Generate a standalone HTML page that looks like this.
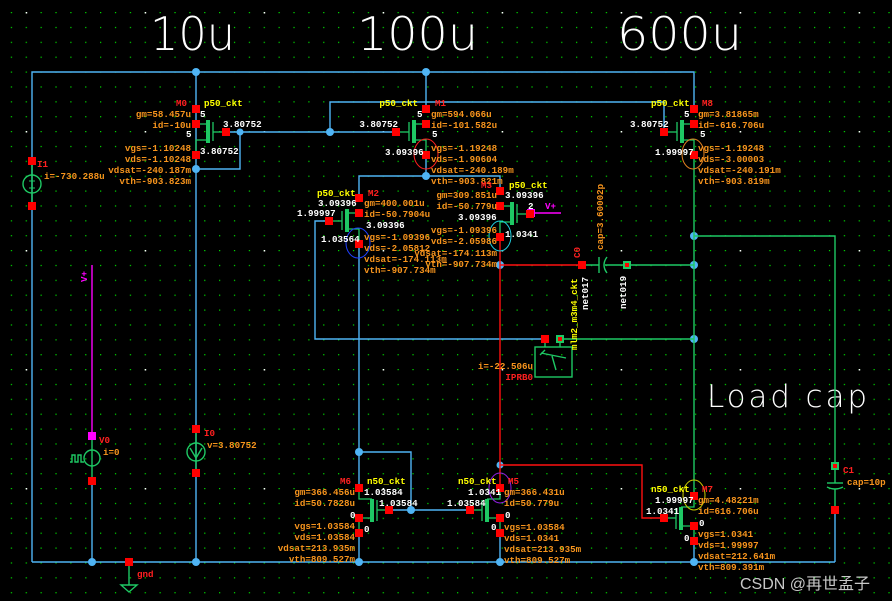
<!DOCTYPE html>
<html><head><meta charset="utf-8"><style>
html,body{margin:0;padding:0;background:#000;}
svg{display:block;}
.t{font-family:"Liberation Mono",monospace;font-size:9.2px;font-weight:bold;}
.o{fill:#f7941d;}.w{fill:#fff;}.y{fill:#ffff00;}.r{fill:#ff2020;}.m{fill:#ff00ff;}
.big{font-family:"DejaVu Sans ExtraLight","DejaVu Sans Light","Liberation Sans",sans-serif;font-weight:200;fill:#fff;}
</style></head><body>
<svg width="892" height="601" viewBox="0 0 892 601" xmlns="http://www.w3.org/2000/svg">
<defs>
<pattern id="g" x="10.8" y="12" width="14.875" height="14.875" patternUnits="userSpaceOnUse"><rect x="0" y="0" width="1.2" height="1.2" fill="#00e000"/></pattern>
<pattern id="gw" x="25.7" y="12" width="119" height="119" patternUnits="userSpaceOnUse"><rect x="-0.5" y="-0.5" width="2" height="2" fill="#fff"/></pattern>
<g id="pm">
<line x1="0" y1="0" x2="12" y2="0" stroke="#1ec864" stroke-width="1.3"/>
<rect x="10" y="-4" width="4" height="23" fill="#1ec864"/>
<polyline points="12,16 0,16 0,31" fill="none" stroke="#1ec864" stroke-width="1.3"/>
<line x1="17" y1="-2" x2="17" y2="17" stroke="#1ec864" stroke-width="1.3"/>
<line x1="17" y1="8" x2="30" y2="8" stroke="#1ec864" stroke-width="1.3"/>
<rect x="-4" y="-19" width="8" height="8" fill="#f00"/>
<rect x="-4" y="-4" width="8" height="8" fill="#f00"/>
<rect x="-4" y="27" width="8" height="8" fill="#f00"/>
<rect x="26" y="4" width="8" height="8" fill="#f00"/>
</g>
<g id="nm">
<polyline points="0,0 0,11 13,11" fill="none" stroke="#1ec864" stroke-width="1.3"/>
<rect x="11" y="11" width="4" height="23" fill="#1ec864"/>
<polyline points="13,30 0,30 0,45" fill="none" stroke="#1ec864" stroke-width="1.3"/>
<line x1="18" y1="12" x2="18" y2="33" stroke="#1ec864" stroke-width="1.3"/>
<line x1="18" y1="22" x2="30" y2="22" stroke="#1ec864" stroke-width="1.3"/>
<rect x="-4" y="-4" width="8" height="8" fill="#f00"/>
<rect x="-4" y="26" width="8" height="8" fill="#f00"/>
<rect x="-4" y="41" width="8" height="8" fill="#f00"/>
<rect x="26" y="18" width="8" height="8" fill="#f00"/>
</g>
</defs>
<rect width="892" height="601" fill="#000"/>
<rect width="892" height="601" fill="url(#g)"/>
<rect width="892" height="601" fill="url(#gw)"/>

<text class="big" x="150" y="50" font-size="46" textLength="85" lengthAdjust="spacingAndGlyphs">10u</text>
<text class="big" x="357" y="50" font-size="46" textLength="121" lengthAdjust="spacingAndGlyphs">100u</text>
<text class="big" x="617" y="50" font-size="46" textLength="125" lengthAdjust="spacingAndGlyphs">600u</text>
<text class="big" x="707" y="407" font-size="31" textLength="160" lengthAdjust="spacing">Load cap</text>

<g stroke="#4fb4f4" stroke-width="1.4" fill="none">
<polyline points="32,562 32,72 694,72 694,109"/>
<line x1="32" y1="562" x2="835" y2="562"/>
<line x1="196" y1="72" x2="196" y2="562"/>
<line x1="426" y1="72" x2="426" y2="109"/>
<polyline points="196,169 240,169 240,132"/>
<line x1="226" y1="132" x2="397" y2="132"/>
<polyline points="330,132 330,102 664,102 664,132"/>
<polyline points="426,154 426,176"/>
<polyline points="359,198 359,176 500,176 500,191"/>
<polyline points="330,221 315,221 315,339 545,339"/>
<line x1="359" y1="243" x2="359" y2="488"/>
<polyline points="359,452 411,452 411,510"/>
<line x1="389" y1="510" x2="472" y2="510"/>
<line x1="359" y1="533" x2="359" y2="562"/>
<line x1="500" y1="533" x2="500" y2="562"/>
<line x1="694" y1="540" x2="694" y2="562"/>
<line x1="835" y1="510" x2="835" y2="562"/>
<line x1="92" y1="481" x2="92" y2="562"/>
</g>
<g fill="#4fb4f4">
<circle cx="196" cy="72" r="4"/><circle cx="426" cy="72" r="4"/><circle cx="196" cy="169" r="4"/>
<circle cx="240" cy="132" r="3.5"/><circle cx="330" cy="132" r="4"/><circle cx="426" cy="176" r="4"/>
<circle cx="359" cy="452" r="4"/><circle cx="411" cy="510" r="4"/><circle cx="500" cy="265" r="4"/>
<circle cx="500" cy="465" r="3.5"/><circle cx="694" cy="236" r="4"/><circle cx="694" cy="265" r="4"/>
<circle cx="694" cy="339" r="4"/><circle cx="92" cy="562" r="4"/><circle cx="196" cy="562" r="4"/>
<circle cx="359" cy="562" r="4"/><circle cx="500" cy="562" r="4"/><circle cx="694" cy="562" r="4"/>
</g>

<g stroke="#ff1010" stroke-width="1.4" fill="none">
<line x1="500" y1="236" x2="500" y2="488"/>
<line x1="500" y1="265" x2="582" y2="265"/>
<polyline points="500,465 642,465 642,518 664,518"/>
</g>
<g stroke="#1ec864" stroke-width="1.4" fill="none">
<line x1="694" y1="154" x2="694" y2="496"/>
<polyline points="694,236 835,236 835,466"/>
<line x1="560" y1="339" x2="694" y2="339"/>
<line x1="627" y1="265" x2="694" y2="265"/>
<line x1="582" y1="265" x2="599" y2="265"/>
<line x1="605" y1="265" x2="627" y2="265"/>
<line x1="599" y1="257" x2="599" y2="273"/>
<path d="M607,257 Q601,265 607,273"/>
<line x1="835" y1="466" x2="835" y2="483"/>
<line x1="827" y1="483" x2="843" y2="483"/>
<path d="M827,487 Q835,491 843,487"/>
<line x1="835" y1="489" x2="835" y2="510"/>
<line x1="32" y1="165" x2="32" y2="202"/>
<circle cx="32" cy="184" r="9"/>
<line x1="92" y1="436" x2="92" y2="481"/>
<circle cx="92" cy="458" r="8"/>
<polyline points="70,462 72,462 72,455 75,455 75,462 78,462 78,455 81,455 81,462 84,462"/>
<line x1="196" y1="429" x2="196" y2="473"/>
<circle cx="196" cy="452" r="9"/>
<path d="M190,448 L196,458 L202,448"/>
<line x1="129" y1="562" x2="129" y2="585"/>
<path d="M121,585 L137,585 L129,592 Z"/>
<rect x="535" y="347" width="37" height="30"/>
<line x1="545" y1="339" x2="545" y2="347"/><line x1="560" y1="339" x2="560" y2="347"/>
<path d="M541,353 L566,358 M552,356 L556,370 M545,350 L540,355"/>
</g>
<g stroke="#1ec864" stroke-width="1" fill="none">
<line x1="29" y1="181" x2="35" y2="181"/><line x1="32" y1="178" x2="32" y2="184"/><line x1="29" y1="188" x2="35" y2="188"/>
</g>
<g fill="#f00">
<rect x="28" y="157" width="8" height="8"/><rect x="28" y="202" width="8" height="8"/>
<rect x="88" y="477" width="8" height="8"/><rect x="192" y="425" width="8" height="8"/><rect x="192" y="469" width="8" height="8"/>
<rect x="125" y="558" width="8" height="8"/><rect x="578" y="261" width="8" height="8"/>
<rect x="541" y="335" width="8" height="8"/><rect x="831" y="506" width="8" height="8"/>
</g>
<rect x="623" y="261" width="8" height="8" fill="#1ec864"/><rect x="625" y="263" width="4" height="4" fill="#f00"/>
<rect x="556" y="335" width="8" height="8" fill="#1ec864"/><rect x="558" y="337" width="4" height="4" fill="#f00"/>
<rect x="831" y="462" width="8" height="8" fill="#1ec864"/><rect x="833" y="464" width="4" height="4" fill="#f00"/>
<line x1="92" y1="265" x2="92" y2="436" stroke="#ff00ff" stroke-width="1.4"/>
<rect x="88" y="432" width="8" height="8" fill="#ff00ff"/>
<line x1="531" y1="213" x2="561" y2="213" stroke="#ff00ff" stroke-width="1.4"/>
<rect x="527" y="209" width="8" height="8" fill="#ff00ff"/>

<use href="#pm" transform="translate(196,124)"/>
<use href="#pm" transform="translate(426,124) scale(-1,1)"/>
<use href="#pm" transform="translate(694,124) scale(-1,1)"/>
<use href="#pm" transform="translate(359,213) scale(-1,1)"/>
<use href="#pm" transform="translate(500,206)"/>
<use href="#nm" transform="translate(359,488)"/>
<use href="#nm" transform="translate(500,488) scale(-1,1)"/>
<use href="#nm" transform="translate(694,496) scale(-1,1)"/>

<ellipse cx="426" cy="154" rx="12" ry="15" fill="none" stroke="#ff2020"/>
<ellipse cx="693" cy="154" rx="11" ry="15" fill="none" stroke="#e08020"/>
<ellipse cx="358" cy="243" rx="12" ry="15" fill="none" stroke="#2040ff"/>
<ellipse cx="500" cy="236" rx="11" ry="15" fill="none" stroke="#20d0e0"/>
<ellipse cx="500" cy="488" rx="11" ry="15" fill="none" stroke="#9020e0"/>
<ellipse cx="694" cy="495" rx="11" ry="15" fill="none" stroke="#c8c800"/>

<g class="t">
<text class="r" x="176" y="106">M0</text><text class="y" x="204" y="106">p50_ckt</text>
<g class="o" text-anchor="end">
<text x="191" y="117">gm=58.457u</text><text x="191" y="128">id=-10u</text>
<text x="191" y="151">vgs=-1.10248</text><text x="191" y="162">vds=-1.10248</text>
<text x="191" y="173">vdsat=-240.187m</text><text x="191" y="184">vth=-903.823m</text></g>
<text class="w" x="200" y="117">5</text><text class="w" x="186" y="137">5</text>
<text class="w" x="223" y="127">3.80752</text><text class="w" x="200" y="154">3.80752</text>
<text class="y" x="418" y="106" text-anchor="end">p50_ckt</text><text class="r" x="435" y="106">M1</text>
<text class="w" x="417" y="117">5</text><text class="w" x="432" y="137">5</text>
<text class="w" x="398" y="127" text-anchor="end">3.80752</text><text class="w" x="385" y="155">3.09396</text>
<g class="o"><text x="431" y="117">gm=594.066u</text><text x="431" y="128">id=-101.582u</text>
<text x="431" y="151">vgs=-1.19248</text><text x="431" y="162">vds=-1.90604</text>
<text x="431" y="173">vdsat=-240.189m</text><text x="431" y="184">vth=-903.821m</text></g>
<text class="y" x="651" y="106">p50_ckt</text><text class="r" x="702" y="106">M8</text>
<text class="w" x="684" y="117">5</text><text class="w" x="700" y="137">5</text>
<text class="w" x="630" y="127">3.80752</text><text class="w" x="655" y="155">1.99997</text>
<g class="o"><text x="698" y="117">gm=3.81865m</text><text x="698" y="128">id=-616.706u</text>
<text x="698" y="151">vgs=-1.19248</text><text x="698" y="162">vds=-3.00003</text>
<text x="698" y="173">vdsat=-240.191m</text><text x="698" y="184">vth=-903.819m</text></g>
<text class="y" x="317" y="196">p50_ckt</text><text class="r" x="368" y="196">M2</text>
<text class="w" x="318" y="206">3.09396</text><text class="w" x="297" y="216">1.99997</text>
<text class="w" x="366" y="228">3.09396</text><text class="w" x="321" y="242">1.03564</text>
<g class="o"><text x="364" y="206">gm=400.001u</text><text x="364" y="217">id=-50.7904u</text>
<text x="364" y="240">vgs=-1.09396</text><text x="364" y="251">vds=-2.05812</text>
<text x="364" y="262">vdsat=-174.113m</text><text x="364" y="273">vth=-907.734m</text></g>
<text class="r" x="481" y="188">M3</text><text class="y" x="509" y="188">p50_ckt</text>
<text class="w" x="505" y="198">3.09396</text><text class="w" x="528" y="209">2</text>
<text class="m" x="545" y="209">V+</text>
<text class="w" x="458" y="220">3.09396</text><text class="w" x="505" y="237">1.0341</text>
<g class="o" text-anchor="end"><text x="497" y="198">gm=309.851u</text><text x="497" y="209">id=-50.779u</text>
<text x="497" y="233">vgs=-1.09396</text><text x="497" y="244">vds=-2.05986</text>
<text x="497" y="256">vdsat=-174.113m</text><text x="497" y="267">vth=-907.734m</text></g>
<text class="r" x="340" y="484">M6</text><text class="y" x="367" y="484">n50_ckt</text>
<text class="w" x="364" y="495">1.03584</text><text class="w" x="379" y="506">1.03584</text>
<text class="w" x="350" y="518">0</text><text class="w" x="364" y="532">0</text>
<g class="o" text-anchor="end"><text x="355" y="495">gm=366.456u</text><text x="355" y="506">id=50.7828u</text>
<text x="355" y="529">vgs=1.03584</text><text x="355" y="540">vds=1.03584</text>
<text x="355" y="551">vdsat=213.935m</text><text x="355" y="562">vth=809.527m</text></g>
<text class="y" x="458" y="484">n50_ckt</text><text class="r" x="508" y="484">M5</text>
<text class="w" x="468" y="495">1.0341</text><text class="w" x="447" y="506">1.03584</text>
<text class="w" x="505" y="518">0</text><text class="w" x="491" y="530">0</text>
<g class="o"><text x="504" y="495">gm=366.431u</text><text x="504" y="506">id=50.779u</text>
<text x="504" y="530">vgs=1.03584</text><text x="504" y="541">vds=1.0341</text>
<text x="504" y="552">vdsat=213.935m</text><text x="504" y="563">vth=809.527m</text></g>
<text class="y" x="651" y="492">n50_ckt</text><text class="r" x="702" y="492">M7</text>
<text class="w" x="655" y="503">1.99997</text><text class="w" x="646" y="514">1.0341</text>
<text class="w" x="699" y="526">0</text><text class="w" x="684" y="541">0</text>
<g class="o"><text x="698" y="503">gm=4.48221m</text><text x="698" y="514">id=616.706u</text>
<text x="698" y="537">vgs=1.0341</text><text x="698" y="548">vds=1.99997</text>
<text x="698" y="559">vdsat=212.641m</text><text x="698" y="570">vth=809.391m</text></g>
<text class="r" x="37" y="167">I1</text><text class="o" x="44" y="179">i=-730.288u</text>
<text class="r" x="99" y="443">V0</text><text class="o" x="103" y="455">i=0</text>
<text class="r" x="204" y="436">I0</text><text class="o" x="207" y="448">v=3.80752</text>
<text class="r" x="137" y="577">gnd</text>
<text class="m" transform="translate(87,282) rotate(-90)">V+</text>
<text class="r" x="843" y="473">C1</text><text class="o" x="847" y="485">cap=10p</text>
<text class="o" x="533" y="369" text-anchor="end">i=-22.506u</text>
<text class="r" x="533" y="380" text-anchor="end">IPRB0</text>
<text class="r" transform="translate(580,258) rotate(-90)">C0</text>
<text class="o" transform="translate(603,250) rotate(-90)">cap=3.60002p</text>
<text class="w" transform="translate(588,310) rotate(-90)">net017</text>
<text class="y" transform="translate(577,350) rotate(-90)">mlm2_m3m4_ckt</text>
<text class="w" transform="translate(626,309) rotate(-90)">net019</text>
</g>
<text x="740" y="589" font-family="Liberation Sans,'Noto Sans CJK SC',sans-serif" font-size="16" fill="#c8c8c8">CSDN @再世孟子</text>
</svg>
</body></html>
